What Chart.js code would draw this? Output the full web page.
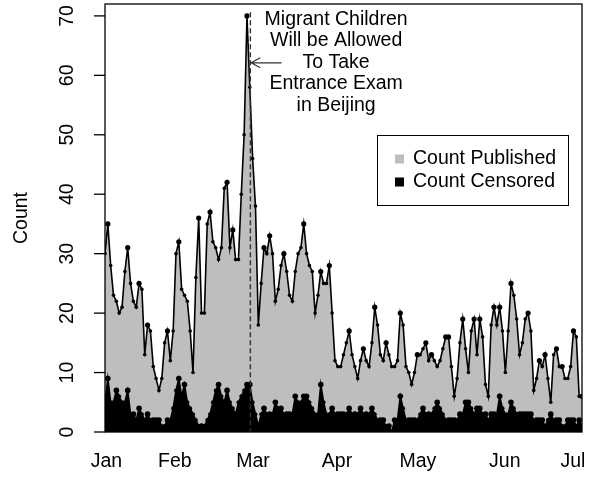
<!DOCTYPE html>
<html><head><meta charset="utf-8">
<script src="https://cdn.jsdelivr.net/npm/chart.js@4/dist/chart.umd.min.js"></script>
<style>html,body{margin:0;padding:0;background:#fff;}</style>
</head><body>
<canvas id="c" width="597" height="482"></canvas>
<script>
// ---- data ----
const published = [30,35,28,23,22,20,21,27,31,25,
22,21,25,24,13,18,17,11,9,7,
9,15,17,12,17,30,32,24,23,22,
17,10,26,36,20,20,35,37,32,31,
29,31,41,42,31,34,29,29,40,50,
70,58,46,38,18,25,31,30,33,30,
22,24,28,30,27,23,22,27,30,31,
35,30,28,27,20,23,27,25,25,28,
20,12,11,11,13,15,17,13,11,9,
12,14,12,11,15,21,18,13,12,15,
13,11,11,12,20,18,11,10,8,10,
13,13,14,15,12,13,12,11,12,14,
16,16,11,6,9,15,19,14,10,17,
19,13,19,16,8,6,18,21,18,21,
17,10,17,25,23,19,13,15,19,20,
17,7,9,12,11,13,9,5,13,14,
11,11,9,9,11,17,16,6,6];
const censored = [5,9,5,5,7,6,5,5,7,3,
3,2,4,3,2,3,2,2,2,2,
1,1,2,2,4,7,9,6,8,5,
4,3,2,1,1,1,2,3,5,7,
8,6,5,7,5,4,3,5,6,7,
8,8,5,3,1,3,4,3,3,3,
5,4,4,3,3,3,3,6,5,5,
6,6,5,4,3,3,8,5,3,3,
4,3,3,3,3,3,4,3,3,3,
4,3,3,3,4,3,2,2,2,1,
1,0,2,2,6,4,2,2,2,2,
2,3,4,3,3,3,4,5,4,3,
2,2,2,2,2,3,3,5,5,4,
3,4,4,3,3,2,3,3,3,6,
4,3,3,5,4,3,3,3,3,3,
3,2,2,2,2,1,2,3,2,2,
2,1,1,2,2,2,1,2,1];
const monthLabels = ['Jan','Feb','Mar','Apr','May','Jun','Jul'];
const monthTicks = [0.5, 24.6, 52.1, 81.7, 110.2, 140.8, 164.8];
const yTicks = [0,10,20,30,40,50,60,70];
const seriesNames = ['Count Published','Count Censored'];
const yTitle = 'Count';
const annotationLines = ['Migrant Children','Will be Allowed','To Take','Entrance Exam','in Beijing'];
const eventIndex = 51.2;
const annotationCenter = 81.4;
const annotationTop = 69.4;
const arrowValue = 62.1;

const FONT = '19.5px "Liberation Sans", Arial, sans-serif';

function radiusFor(arr, big, small){
  return c => {
    const i = c.dataIndex, v = arr[i];
    const p = i > 0 ? arr[i-1] : -Infinity, n = i < arr.length-1 ? arr[i+1] : -Infinity;
    return (v >= p && v >= n) ? big : small;
  };
}

const rPlugin = {
  id: 'rstyle',
  afterDatasetsDraw(chart){
    const {ctx, chartArea: a, scales: {x: xs, y: ys}} = chart;
    ctx.save();
    const ex = xs.getPixelForValue(eventIndex);
    ctx.strokeStyle = '#333'; ctx.lineWidth = 1.4; ctx.setLineDash([5,3]);
    ctx.beginPath(); ctx.moveTo(ex, ys.getPixelForValue(70.6)); ctx.lineTo(ex, a.bottom); ctx.stroke();
    ctx.setLineDash([]);
    const ay = ys.getPixelForValue(arrowValue);
    const tip = xs.getPixelForValue(eventIndex + 0.3), tail = xs.getPixelForValue(eventIndex + 11);
    ctx.strokeStyle = '#333'; ctx.lineWidth = 1.2;
    ctx.beginPath(); ctx.moveTo(tail, ay); ctx.lineTo(tip, ay);
    ctx.moveTo(tip + 9, ay - 5); ctx.lineTo(tip, ay); ctx.lineTo(tip + 9, ay + 5); ctx.stroke();
    ctx.fillStyle = '#000'; ctx.font = FONT; ctx.textAlign = 'center'; ctx.textBaseline = 'middle';
    const tx = xs.getPixelForValue(annotationCenter), ty = ys.getPixelForValue(annotationTop);
    annotationLines.forEach((t, i) => ctx.fillText(t, tx, ty + i * 21.5));
    ctx.restore();
  },
  afterDraw(chart){
    const {ctx, chartArea: a, scales: {x: xs, y: ys}} = chart;
    ctx.save();
    ctx.strokeStyle = '#000'; ctx.lineWidth = 1.3;
    ctx.strokeRect(a.left, a.top, a.right - a.left, a.bottom - a.top);
    ctx.font = FONT; ctx.fillStyle = '#000';
    yTicks.forEach(v => {
      const y = ys.getPixelForValue(v);
      ctx.beginPath(); ctx.moveTo(a.left - 11, y); ctx.lineTo(a.left, y); ctx.stroke();
      ctx.save(); ctx.translate(a.left - 37, y); ctx.rotate(-Math.PI/2);
      ctx.textAlign = 'center'; ctx.textBaseline = 'middle'; ctx.fillText(String(v), 0, 0);
      ctx.restore();
    });
    ctx.save(); ctx.translate(22, (a.top + a.bottom) / 2); ctx.rotate(-Math.PI/2);
    ctx.textAlign = 'center'; ctx.textBaseline = 'middle'; ctx.fillText(yTitle, 0, 0); ctx.restore();
    ctx.textAlign = 'center'; ctx.textBaseline = 'middle';
    monthTicks.forEach((v, i) => ctx.fillText(monthLabels[i], xs.getPixelForValue(v), a.bottom + 30));
    const lx = a.right - 205, ly = a.top + 131, lw = 191, lh = 70;
    ctx.fillStyle = '#fff'; ctx.fillRect(lx, ly, lw, lh);
    ctx.strokeStyle = '#000'; ctx.lineWidth = 1; ctx.strokeRect(lx + 0.5, ly + 0.5, lw, lh);
    const ds = chart.data.datasets;
    const items = [ds[1], ds[0]];
    items.forEach((d, i) => {
      const cy = ly + 24 + i * 23;
      ctx.fillStyle = d.backgroundColor;
      ctx.fillRect(lx + 18, cy - 4.5, 9, 9);
      ctx.fillStyle = '#000'; ctx.textAlign = 'left'; ctx.textBaseline = 'middle';
      ctx.fillText(d.label, lx + 36, cy);
    });
    ctx.restore();
  }
};

new Chart(document.getElementById('c'), {
  type: 'line',
  data: {
    datasets: [
      { label: seriesNames[1], data: censored.map((v, i) => ({x: i, y: v})),
        borderColor: '#000', backgroundColor: '#000', fill: 'origin', borderWidth: 1.6,
        pointRadius: radiusFor(censored, 2.8, 2.0), pointBackgroundColor: '#000', pointBorderWidth: 0,
        tension: 0, order: 0 },
      { label: seriesNames[0], data: published.map((v, i) => ({x: i, y: v})),
        borderColor: '#000', backgroundColor: '#bebebe', fill: 'origin', borderWidth: 1.6,
        pointRadius: radiusFor(published, 2.6, 1.8), pointBackgroundColor: '#000', pointBorderWidth: 0,
        tension: 0, order: 1 }
    ]
  },
  options: {
    responsive: false, animation: false, devicePixelRatio: 1,
    layout: { padding: { left: 0, right: 15, top: 4, bottom: 0 } },
    plugins: { legend: { display: false }, tooltip: { enabled: false } },
    scales: {
      x: { type: 'linear', min: 0, max: published.length - 1,
           grid: { display: false, drawTicks: false }, border: { display: false },
           ticks: { display: false }, afterFit(s){ s.height = 50; } },
      y: { min: 0, max: 72, grid: { display: false, drawTicks: false }, border: { display: false },
           ticks: { display: false }, afterFit(s){ s.width = 105; } }
    }
  },
  plugins: [rPlugin]
});
</script>
</body></html>
